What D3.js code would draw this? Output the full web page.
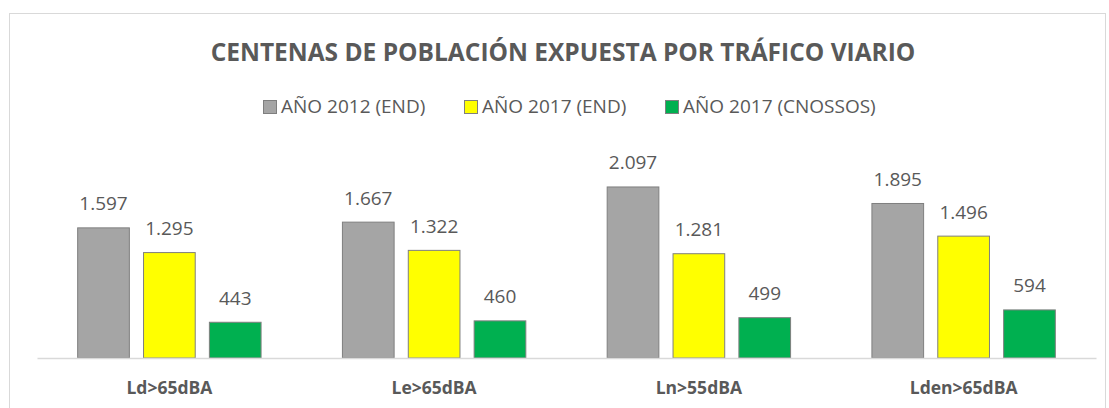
<!DOCTYPE html>
<html lang="es">
<head>
    <meta charset="utf-8">
    <title>Centenas de población expuesta</title>
    <script src="https://d3js.org/d3.v7.min.js"></script>
    <style>
        body { margin: 0; background: #fff; }
        text { font-family: "Open Sans", sans-serif; fill: #595959; }
    </style>
</head>
<body>
    <svg width="1109" height="408" id="mainsvg"></svg>

    <script>
        // data
        const categories = ['Ld>65dBA', 'Le>65dBA', 'Ln>55dBA', 'Lden>65dBA']
        const seriesNames = ['AÑO 2012 (END)', 'AÑO 2017 (END)', 'AÑO 2017 (CNOSSOS)']
        const serie2012 = [1597, 1667, 2097, 1895]
        const serie2017 = [1295, 1322, 1281, 1496]
        const serieCnossos = [443, 460, 499, 594]
        const colors = ['#A5A5A5', '#FFFF00', '#00B050']
        const titleText = 'CENTENAS DE POBLACIÓN EXPUESTA POR TRÁFICO VIARIO'

        const allSeries = [serie2012, serie2017, serieCnossos]
        const fmt = v => d3.format(',')(v).replace(/,/g, '.')

        const svg = d3.select('#mainsvg')
        const width = +svg.attr('width')
        const height = +svg.attr('height')

        // chart frame
        svg.append('rect')
            .attr('x', 9.5).attr('y', 13.5)
            .attr('width', width - 13).attr('height', height)
            .attr('fill', '#fff')
            .attr('stroke', '#D9D9D9')

        const plot = {left: 37, right: 1096, top: 150, bottom: 358}

        const xScale = d3.scaleBand()
            .domain(categories)
            .range([plot.left, plot.right])
            .padding(0)

        const xInner = d3.scaleBand()
            .domain(d3.range(seriesNames.length))
            .range([0, xScale.bandwidth()])
            .paddingInner(0.2)
            .paddingOuter(0.61)

        const yScale = d3.scaleLinear()
            .domain([0, 2500])
            .range([plot.bottom, plot.bottom - 204.5])

        // title
        svg.append('text')
            .attr('x', 563).attr('y', 61)
            .attr('text-anchor', 'middle')
            .attr('font-size', '24.5px')
            .attr('font-weight', 'bold')
            .text(titleText)

        // legend
        const legendX = [263, 464, 665]
        const legend = svg.append('g')
        seriesNames.forEach((name, i) => {
            const item = legend.append('g').attr('transform', `translate(${legendX[i]}, 107)`)
            item.append('rect')
                .attr('x', 0.5).attr('y', -6.5)
                .attr('width', 13).attr('height', 13)
                .attr('fill', colors[i])
                .attr('stroke', '#7F7F7F')
            item.append('text')
                .attr('x', 18).attr('y', 6)
                .attr('font-size', '19px')
                .text(name)
        })

        const g = svg.append('g')

        // bars
        allSeries.forEach((values, s) => {
            g.selectAll(null)
                .data(values)
                .join('rect')
                .attr('x', (d, i) => xScale(categories[i]) + xInner(s) + 0.5)
                .attr('y', d => yScale(d) + 0.5)
                .attr('width', xInner.bandwidth() - 1)
                .attr('height', d => yScale(0) - yScale(d) - 0.5)
                .attr('fill', colors[s])
                .attr('stroke', '#7F7F7F')
                .attr('stroke-width', 1)

            g.selectAll(null)
                .data(values)
                .join('text')
                .attr('x', (d, i) => xScale(categories[i]) + xInner(s) + xInner.bandwidth() / 2)
                .attr('y', d => yScale(d) - 17)
                .attr('text-anchor', 'middle')
                .attr('font-size', '19px')
                .text(d => fmt(d))
        })

        // x axis
        const xAxis = d3.axisBottom(xScale).tickSize(0).tickPadding(0)
        const xAxisGroup = g.append('g')
            .attr('transform', `translate(0, ${plot.bottom})`)
            .call(xAxis)
        xAxisGroup.select('.domain').attr('stroke', '#D9D9D9').attr('stroke-width', 1.5)
        xAxisGroup.selectAll('.tick text')
            .attr('dy', 0)
            .attr('y', 36)
            .attr('font-size', '17.5px')
            .attr('font-weight', 'bold')
            .attr('fill', '#595959')
    </script>
</body>
</html>
